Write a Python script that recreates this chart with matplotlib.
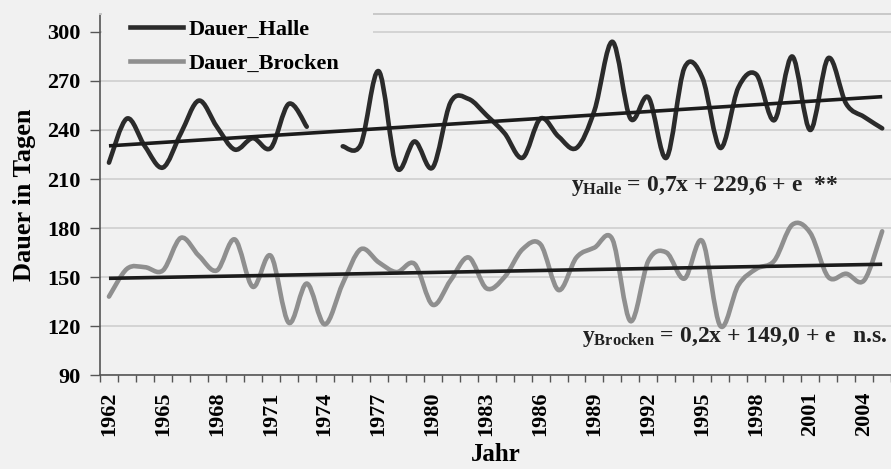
import matplotlib
import matplotlib.pyplot as plt
from matplotlib.lines import Line2D
from matplotlib.patches import PathPatch, Rectangle
from matplotlib.path import Path
from matplotlib.ticker import FixedLocator, MultipleLocator

matplotlib.use("Agg")

# Dauer in Tagen, 1962-2005 (1974 fehlt fuer Halle)
years = list(range(1962, 2006))
halle = [220, 247, 230, 217, 238, 258, 242, 228, 235, 229, 256, 242, None,
         230, 231, 276, 217, 233, 217, 257, 259, 249, 238, 223, 247, 236,
         229, 252, 294, 247, 260, 223, 278, 272, 229, 266, 274, 246, 285,
         240, 284, 256, 248, 241]
brocken = [138, 155, 156, 154, 174, 163, 154, 173, 144, 163, 122, 146, 121,
           146, 167, 159, 153, 158, 133, 148, 162, 143, 150, 167, 170, 142,
           162, 168, 173, 123, 160, 165, 149, 172, 120, 145, 155, 160, 182,
           177, 150, 152, 148, 178]

# Trendlinien y = a*x + b, x = 1..44
halle_trend = (0.7, 229.6)
brocken_trend = (0.2, 149.0)

xticks = list(range(1962, 2005, 3))
yticks = list(range(90, 301, 30))

BG = "#f1f1f1"
HALLE_C = "#2b2b2b"
BROCKEN_C = "#8f8f8f"

plt.rcParams["font.family"] = "Liberation Serif"
plt.rcParams["font.weight"] = "bold"
plt.rcParams["axes.labelweight"] = "bold"
plt.rcParams["mathtext.fontset"] = "custom"
plt.rcParams["mathtext.rm"] = "Liberation Serif:bold"
plt.rcParams["mathtext.it"] = "Liberation Serif:bold"
plt.rcParams["mathtext.bf"] = "Liberation Serif:bold"


def smooth_path(xs, ys):
    # Bezier-Glaettung wie bei Excel ("geglaettete Linie")
    verts = [(xs[0], ys[0])]
    codes = [Path.MOVETO]
    n = len(xs)
    for i in range(n - 1):
        x0, y0 = (xs[i - 1], ys[i - 1]) if i > 0 else (xs[i], ys[i])
        x1, y1 = xs[i], ys[i]
        x2, y2 = xs[i + 1], ys[i + 1]
        x3, y3 = (xs[i + 2], ys[i + 2]) if i + 2 < n else (x2, y2)
        verts += [(x1 + (x2 - x0) / 6, y1 + (y2 - y0) / 6),
                  (x2 - (x3 - x1) / 6, y2 - (y3 - y1) / 6),
                  (x2, y2)]
        codes += [Path.CURVE4] * 3
    return Path(verts, codes)


def draw_series(ax, xs, ys, color, lw):
    seg_x, seg_y = [], []
    for x, y in list(zip(xs, ys)) + [(None, None)]:
        if y is None:
            if len(seg_x) > 1:
                ax.add_patch(PathPatch(smooth_path(seg_x, seg_y), fill=False,
                                       edgecolor=color, lw=lw, capstyle="round",
                                       joinstyle="round", zorder=3))
            seg_x, seg_y = [], []
        else:
            seg_x.append(x)
            seg_y.append(y)


fig = plt.figure(figsize=(8.91, 4.69), dpi=100, facecolor=BG)
ax = fig.add_axes([0.1122, 0.2004, 0.888, 0.7697], facecolor=BG)

draw_series(ax, years, halle, HALLE_C, 3.3)
draw_series(ax, years, brocken, BROCKEN_C, 3.3)

for (a, b) in (halle_trend, brocken_trend):
    ax.plot([years[0], years[-1]], [a * 1 + b, a * len(years) + b],
            color="#1c1c1c", lw=2.6, solid_capstyle="butt", zorder=4)

ax.set_xlim(years[0] - 0.5, years[-1] + 0.5)
ax.set_ylim(90, 311)

ax.xaxis.set_major_locator(FixedLocator(xticks))
ax.xaxis.set_minor_locator(MultipleLocator(1, offset=0.5))
ax.set_xticklabels([str(t) for t in xticks], rotation=90, fontsize=16)
ax.tick_params(axis="x", which="major", length=0, pad=12)
ax.tick_params(axis="x", which="minor", length=5, width=1, color="#555555")

ax.set_yticks(yticks)
ax.set_yticklabels([str(t) for t in yticks], fontsize=16)
ax.tick_params(axis="y", length=7, width=1, color="#555555", pad=7)

ax.grid(axis="y", color="#d4d4d4", lw=1.4, zorder=0)
ax.set_axisbelow(True)

ax.spines["left"].set_color("#555555")
ax.spines["bottom"].set_color("#555555")
ax.spines["left"].set_linewidth(1.2)
ax.spines["bottom"].set_linewidth(1.2)
ax.spines["top"].set_color("#c8c8c8")
ax.spines["top"].set_linewidth(1.4)
ax.spines["right"].set_visible(False)

ax.set_ylabel("Dauer in Tagen", fontsize=19, labelpad=8)
ax.set_xlabel("Jahr", fontsize=18, labelpad=5)

# Legendenhintergrund verdeckt Gitterlinien oben links
ax.add_patch(Rectangle((0.003, 0.83), 0.342, 0.2, transform=ax.transAxes,
                       facecolor=BG, edgecolor="none", zorder=2.6,
                       clip_on=False))

handles = [Line2D([], [], color=HALLE_C, lw=3.3),
           Line2D([], [], color=BROCKEN_C, lw=3.3)]
ax.legend(handles, ["Dauer_Halle", "Dauer_Brocken"], loc="upper left",
          bbox_to_anchor=(0.038, 0.985), borderaxespad=0, borderpad=0,
          fontsize=16, handlelength=2.4, handletextpad=0.25,
          labelspacing=0.6, frameon=False)

ax.text(1987.7, 205.5, r"$y_{\mathrm{Halle}}$ = 0,7x + 229,6 + e  **",
        fontsize=17, va="center", ha="left", color="#222222")
ax.text(1988.3, 113.5, r"$y_{\mathrm{Brocken}}$ = 0,2x + 149,0 + e   n.s.",
        fontsize=17, va="center", ha="left", color="#222222")

fig.savefig("out.png", dpi=100, facecolor=BG)
